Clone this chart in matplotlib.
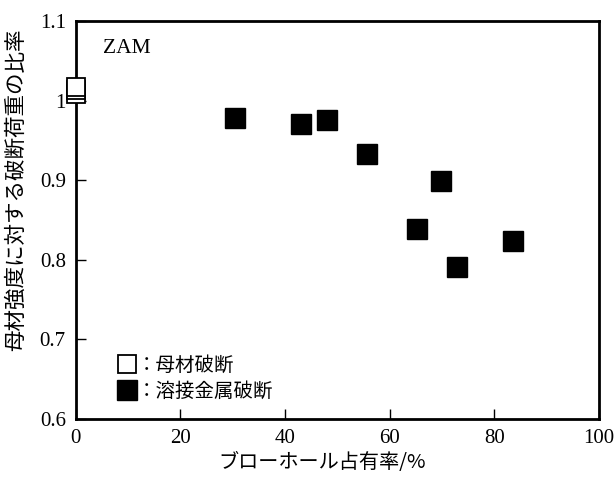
import matplotlib
matplotlib.use("Agg")
import matplotlib.pyplot as plt
from matplotlib.ticker import FixedLocator, FixedFormatter

# base metal fracture (open squares, all at 0 %)
base_x = [0, 0, 0]
base_y = [1.008, 1.013, 1.017]

# weld metal fracture (filled squares)
weld_x = [30.5, 43.1, 48.1, 55.7, 65.3, 69.8, 72.9, 83.6]
weld_y = [0.978, 0.971, 0.976, 0.933, 0.839, 0.899, 0.791, 0.824]

xticks = [0, 20, 40, 60, 80, 100]
yticks = [0.6, 0.7, 0.8, 0.9, 1.0, 1.1]
ytick_labels = ["0.6", "0.7", "0.8", "0.9", "1", "1.1"]

jp = ["Noto Sans CJK JP", "DejaVu Sans"]
serif = ["Liberation Serif", "DejaVu Serif"]

fig = plt.figure(figsize=(6.16, 4.78), dpi=100)
ax = fig.add_axes([0.1226, 0.1234, 0.8498, 0.8326])

ax.plot(base_x, base_y, ls="none", marker="s", ms=13, mfc="white", mec="black",
        mew=1.3, clip_on=False, zorder=5, label="：母材破断")
ax.plot(weld_x, weld_y, ls="none", marker="s", ms=14, mfc="black", mec="black",
        mew=1.0, clip_on=False, zorder=5, label="：溶接金属破断")

ax.set_xlim(0, 100)
ax.set_ylim(0.6, 1.1)
ax.xaxis.set_major_locator(FixedLocator(xticks))
ax.yaxis.set_major_locator(FixedLocator(yticks))
ax.yaxis.set_major_formatter(FixedFormatter(ytick_labels))
ax.tick_params(direction="in", length=7, width=1.0, top=False, right=False,
               pad=7, labelsize=15)
for lab in ax.get_xticklabels() + ax.get_yticklabels():
    lab.set_family(serif)
for s in ax.spines.values():
    s.set_linewidth(2.0)

ax.set_xlabel("ブローホール占有率/%", family=jp, fontsize=14.5)
ax.xaxis.set_label_coords(0.471, -0.083)
ax.set_ylabel("母材強度に対する破断荷重の比率", family=jp, fontsize=15.5)
ax.yaxis.set_label_coords(-0.093, 0.575)

ax.text(0.053, 0.932, "ZAM", transform=ax.transAxes, family=serif, fontsize=15.5,
        va="center", ha="left")

leg = ax.legend(loc="lower left", bbox_to_anchor=(0.051, 0.0), frameon=False,
                numpoints=1, handlelength=0.8, handletextpad=0.1,
                labelspacing=0.25, prop={"family": jp, "size": 14})

fig.savefig("out.png", dpi=100)
